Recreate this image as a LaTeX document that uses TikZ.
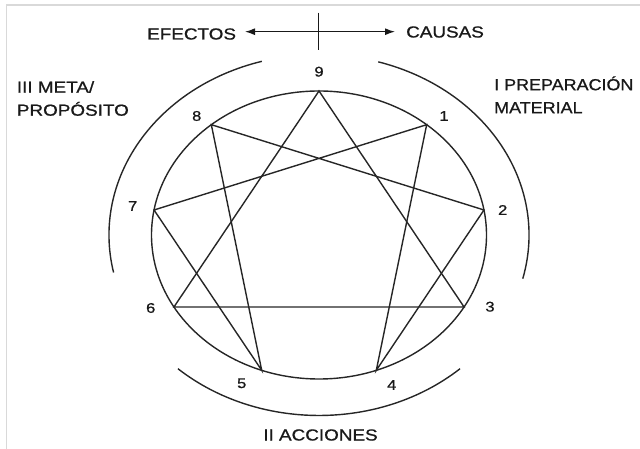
\documentclass[tikz,border=0pt]{standalone}
\usepackage{graphicx}
\usepackage{fontspec}
\setmainfont{Liberation Sans}[FakeStretch=1.18,FakeBold=0.9]
\usetikzlibrary{arrows.meta,calc}
\begin{document}
\begin{tikzpicture}[x=1pt,y=1pt,
  ink/.style={line width=1.4pt, draw=black!85},
  lbl/.style={font=\fontsize{16}{23}\selectfont, text=black!90, inner sep=0pt},
  num/.style={font=\fontsize{14}{16}\selectfont, text=black!90, inner sep=0pt},
  framed/.style={draw=black!15, line width=1.5pt},
  arr/.style={line width=1.2pt, draw=black!90, -{Latex[length=10pt,width=7pt]}}]
\useasboundingbox (0,0) rectangle (640,449);
\draw[framed] (6.7,0) -- (6.7,444) -- (640,444);
\coordinate (c) at (319,214);
% vertices
\foreach \k in {0,...,8}
  \coordinate (v\k) at ([shift={({90-40*\k}:167.5pt and 144pt)}]c);
% inner circle
\draw[ink] (c) ellipse [x radius=167.5pt, y radius=144pt];
% outer arcs
\draw[ink] ([shift={(105.8:210pt and 180.5pt)}]c) arc[start angle=105.8, end angle=192, x radius=210pt, y radius=180.5pt];
\draw[ink] ([shift={(73.6:210pt and 180.5pt)}]c) arc[start angle=73.6, end angle=-14, x radius=210pt, y radius=180.5pt];
\draw[ink] ([shift={(227.8:210pt and 180.5pt)}]c) arc[start angle=227.8, end angle=312.2, x radius=210pt, y radius=180.5pt];
% enneagram
\draw[ink] (v1) -- (v4) -- (v2) -- (v8) -- (v5) -- (v7) -- cycle;
\draw[ink] (v0) -- (v3) -- (v6) -- cycle;
% numbers
\node[num] (n9) at (319,377.3) {9};
\node[num] (n1) at (444,333) {1};
\node[num] (n2) at (502.7,239) {2};
\node[num] (n3) at (490,142.3) {3};
\node[num] (n4) at (391.7,64) {4};
\node[num] (n5) at (241.7,65.7) {5};
\node[num] (n6) at (150.7,141) {6};
\node[num] (n7) at (132.7,243) {7};
\node[num] (n8) at (196.7,333) {8};
% cross with arrows
\coordinate (x0) at (318,417.3);
\coordinate (xl) at (245,417.3);
\coordinate (xr) at (395,417.3);
\coordinate (xt) at (318,436.3);
\coordinate (xb) at (318,399);
\draw[line width=1pt, draw=black!90] (xt) -- (xb);
\draw[arr] (x0) -- (xl);
\draw[arr] (x0) -- (xr);
\node[lbl, anchor=west] (efe) at (147,415) {EFECTOS};
\node[lbl, anchor=west] (cau) at (406,417) {CAUSAS};
% section labels
\node[lbl, anchor=west, align=left] (meta) at (16.7,350.5) {III META/\\PROPÓSITO};
\node[lbl, anchor=west, align=left] (prep) at (494,354.2) {\scalebox{0.95}[1]{I PREPARACIÓN}\\\scalebox{0.95}[1]{MATERIAL}};
\node[lbl] (acc) at (320.5,14) {II ACCIONES};
\end{tikzpicture}
\end{document}
